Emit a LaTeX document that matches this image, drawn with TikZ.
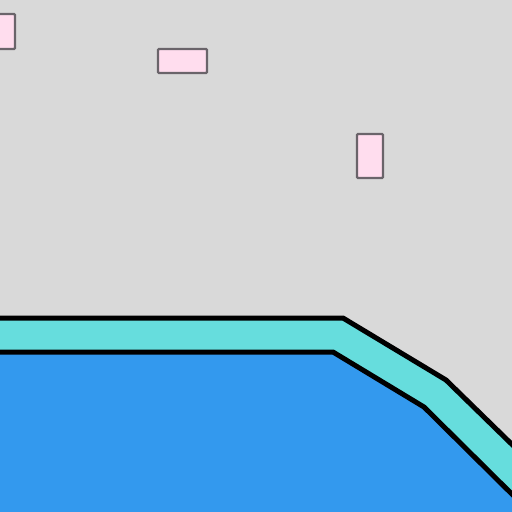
\documentclass[tikz,border=0pt]{standalone}
\definecolor{bg}{HTML}{D9D9D9}
\definecolor{band}{HTML}{66DDDD}
\definecolor{sea}{HTML}{3399EE}
\definecolor{pinkfill}{HTML}{FFDDEE}
\definecolor{pinkline}{HTML}{6A646A}
\begin{document}
\begin{tikzpicture}[x=1pt,y=-1pt,
  pinkbox/.style={fill=pinkfill,draw=pinkline,line width=2.2pt,rounded corners=1pt},
  edge/.style={draw=black,line width=5pt,line join=round}]
\useasboundingbox (0,0) rectangle (512,512);
\clip (0,0) rectangle (512,512);
\fill[bg] (0,0) rectangle (512,512);
% cyan band
\fill[band] (-10,318) -- (343,318) -- (446,380) -- (530,462) -- (530,530) -- (-10,530) -- cycle;
% blue region
\fill[sea] (-10,352) -- (333,352) -- (424,407) -- (530,512) -- (530,530) -- (-10,530) -- cycle;
\draw[edge] (-10,318) -- (343,318) -- (446,380) -- (530,462);
\draw[edge] (-10,352) -- (333,352) -- (424,407) -- (530,512);
% pink boxes
\path[pinkbox] (150,-22) rectangle (170,-1.5);
\path[pinkbox] (-12,14) rectangle (15,49);
\path[pinkbox] (158,49) rectangle (207,73);
\path[pinkbox] (357,134) rectangle (383,178);
\end{tikzpicture}
\end{document}
